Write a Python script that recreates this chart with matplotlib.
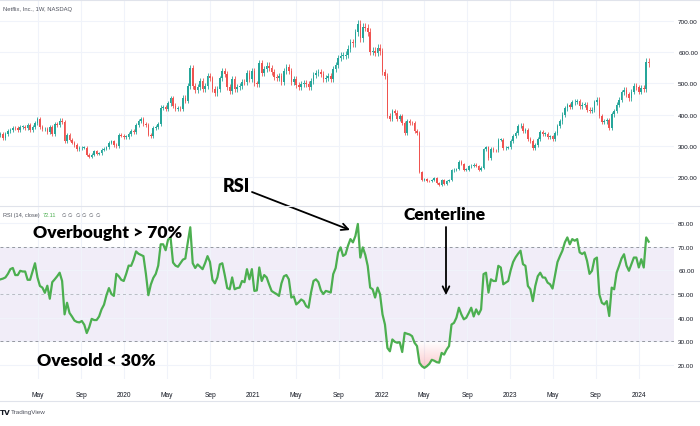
import numpy as np
import pandas as pd
import matplotlib
matplotlib.use("Agg")
import matplotlib.pyplot as plt
import matplotlib.dates as mdates
from matplotlib.path import Path
from matplotlib import font_manager

# ---------------- data ----------------
week_start = "2019-01-14"
n_weeks = 264
first_open = 335.0
closes_2019 = [339, 325, 339, 347, 351, 358, 357, 352, 361, 361, 357, 366, 351, 360, 374, 385,
               361, 354, 354, 343, 360, 339, 370, 367, 381, 376, 315, 335, 320, 310, 302, 290,
               293, 294, 294, 271, 265, 272, 282, 275, 276, 287, 291, 295, 310, 314, 302, 298,
               336, 333, 329]
closes_2020 = [329, 339, 349, 345, 367, 380, 386, 369, 368, 336, 332, 357, 361, 370, 422, 424,
               419, 437, 453, 429, 419, 419, 418, 454, 444, 492, 548, 492, 479, 488, 509, 482,
               491, 524, 516, 482, 469, 482, 516, 539, 531, 489, 475, 513, 482, 488, 491, 504,
               503, 534, 513, 541]
closes_2021 = [500, 497, 565, 532, 547, 557, 548, 538, 521, 518, 524, 503, 539, 553, 540, 505,
               513, 495, 487, 499, 502, 499, 488, 508, 528, 533, 537, 530, 515, 517, 524, 515,
               547, 558, 582, 589, 589, 592, 611, 632, 628, 664, 690, 645, 682, 679, 665, 602,
               605, 597, 614, 603]
closes_2022 = [537, 525, 397, 387, 410, 406, 385, 394, 373, 341, 380, 374, 373, 348, 341, 216,
               190, 194, 187, 186, 191, 198, 182, 175, 190, 179, 186, 189, 221, 224, 226, 249,
               242, 224, 224, 234, 236, 240, 235, 224, 230, 289, 295, 260, 291, 286, 285, 320,
               320, 292, 294, 295]
closes_2023 = [315, 332, 342, 362, 365, 347, 350, 322, 315, 293, 303, 321, 345, 339, 339, 328,
               330, 322, 340, 364, 378, 400, 420, 431, 424, 440, 441, 443, 427, 432, 432, 416,
               413, 416, 440, 447, 396, 377, 378, 383, 356, 401, 412, 432, 447, 471, 479, 465,
               453, 473, 491, 487]
closes_2024 = [474, 486, 482, 570, 564]

rsi_values = [
    56.2, 56.5, 57, 58.5, 60.5, 61, 58, 58, 59.8, 59.5, 59.5, 56, 56, 59.5, 63, 57,
    53.4, 52.7, 50.5, 53.5, 48, 55, 56.2, 57.5, 59, 55.5, 41.4, 46.3, 42, 40.5, 38.8, 38.2,
    38, 38.6, 37, 33.5, 36, 39.5, 39, 39, 40.5, 43.5, 45.5, 49.5, 52.5, 50, 49.2, 58.5,
    57.5, 56, 55.5, 58.5, 62, 61.9, 64.5, 68, 67, 66.5, 66, 58.5, 49.5, 54, 56.8, 58.5,
    62, 71, 71, 68.5, 73, 73.9, 63.3, 62, 61.5, 63, 64.5, 65, 71.8, 78.2, 63, 61,
    62.5, 61.5, 60.5, 63, 66, 63.5, 56, 54.5, 57, 62.5, 63, 58, 52.5, 52, 57, 52,
    52.5, 52.7, 55.5, 55, 60.5, 56.2, 60.5, 51.3, 51.5, 61.2, 55.5, 58, 57, 54, 51.3, 50.6,
    50, 49.2, 54.5, 57.5, 58, 56.2, 48.5, 49, 45.6, 46.5, 47.7, 47, 44.9, 44.2, 50.6, 55.5,
    56.2, 55, 51.5, 50, 51.3, 51, 50.6, 58.4, 61, 67.6, 69.7, 66.1, 66.8, 70.4, 73.2, 71.8,
    74.5, 79.6, 65.4, 69.7, 66.6, 61.9, 52.7, 52, 48.5, 52.7, 49.9, 41.4, 37.1, 27.2, 25.8, 30.8,
    29.8, 29.4, 29.6, 25.5, 33.6, 33.2, 32.9, 32.2, 29.4, 28, 20.9, 19.5, 18.8, 19.5, 20.5, 22.2,
    21.8, 21.2, 21, 25.1, 24.4, 26.5, 28, 37.1, 37.8, 40, 44.2, 41.4, 39.3, 40, 42, 44.2,
    40.5, 43.5, 41.4, 43.5, 58.4, 59, 50.6, 56.2, 55.5, 55.5, 61.9, 61.2, 54.1, 54.8, 55.5, 60,
    63.5, 65.5, 67, 68.3, 62.6, 61.9, 53.4, 52, 47, 53.4, 57.5, 59, 57, 56.9, 54.8, 54.1,
    52.3, 58, 63.5, 66, 68.3, 71.8, 73.9, 71, 73.2, 72.5, 73.2, 67.6, 66.9, 67.6, 64, 58.5,
    59.8, 64.7, 65.4, 49.8, 46.3, 45.6, 47, 40.7, 52.7, 52, 59, 61.9, 65, 66.8, 62, 59.8,
    62.6, 65.4, 65.4, 61.2, 64.7, 61.2, 73.9, 72.11]

price_ticks = [200, 300, 400, 500, 600, 700]
rsi_ticks = [20, 30, 40, 50, 60, 70, 80]
date_tick_dates = ["2019-05-01", "2019-09-01", "2020-01-01", "2020-05-01", "2020-09-01",
                   "2021-01-01", "2021-05-01", "2021-09-01", "2022-01-01", "2022-05-01",
                   "2022-09-01", "2023-01-01", "2023-05-01", "2023-09-01", "2024-01-01"]
date_tick_labels = ["May", "Sep", "2020", "May", "Sep", "2021", "May", "Sep", "2022", "May",
                    "Sep", "2023", "May", "Sep", "2024"]

# ---------------- style ----------------
W, H = 700, 427
UP, DOWN = "#26a69a", "#ef5350"
GRID = "#f0f3fa"
BORDER = "#e0e3eb"
TXT = "#131722"
names = {f.name for f in font_manager.fontManager.ttflist}
NARROW = "Liberation Sans Narrow" if "Liberation Sans Narrow" in names else "Liberation Sans"
SMALL = [NARROW, "DejaVu Sans"]
BOLD = ["Lato", "DejaVu Sans"]

fig = plt.figure(figsize=(7, 4.27), dpi=100)
fig.patch.set_facecolor("white")


def fx(px):
    return px / W


def fy(py):
    return 1 - py / H


ax1 = fig.add_axes([0, fy(207), fx(674), (207 - 1) / H])
ax2 = fig.add_axes([0, fy(380), fx(674), (380 - 207) / H], sharex=ax1)

dates = pd.date_range(week_start, periods=n_weeks, freq="7D")
x = mdates.date2num(dates.to_pydatetime())
closes = np.array(closes_2019 + closes_2020 + closes_2021 + closes_2022 + closes_2023 + closes_2024, float)
rsi = np.array(rsi_values, float)
opens = np.concatenate([[first_open], closes[:-1]])
is_up = closes >= opens
cols = np.where(is_up, UP, DOWN)
highs = np.maximum(opens, closes) * 1.018
lows = np.minimum(opens, closes) * 0.982

x0 = mdates.date2num(pd.Timestamp(week_start)) - 1.42
x1 = x0 + 674 / 2.4645 * 7
tick_x = mdates.date2num(pd.to_datetime(date_tick_dates).to_pydatetime())

# ---- price pane ----
ax1.vlines(x, lows, highs, colors=cols, lw=0.6, zorder=3)
ax1.bar(x, np.maximum(np.abs(closes - opens), 1.0), bottom=np.minimum(opens, closes),
        width=4.6, color=cols, lw=0, zorder=4)
ax1.set_ylim(107.05, 767.3)
ax1.set_xlim(x0, x1)
ax1.set_yticks(price_ticks)
ax1.set_yticklabels([f"{v:.2f}" for v in price_ticks])
ax1.yaxis.tick_right()
ax1.tick_params(axis="y", length=0, pad=3, labelsize=4.6, labelcolor=TXT)
ax1.tick_params(axis="x", length=0, labelbottom=False)
for t in ax1.get_yticklabels():
    t.set_family(SMALL)
ax1.set_xticks(tick_x)
ax1.grid(True, color=GRID, lw=0.8, zorder=0)
for s in ax1.spines.values():
    s.set_visible(False)

# ---- RSI pane ----
ax2.set_ylim(14.09, 87.18)
ax2.set_yticks(rsi_ticks)
ax2.set_yticklabels([f"{v:.2f}" for v in rsi_ticks])
ax2.yaxis.tick_right()
ax2.tick_params(axis="y", length=0, pad=3, labelsize=4.6, labelcolor=TXT)
ax2.set_xticks(tick_x)
ax2.set_xticklabels(date_tick_labels)
ax2.tick_params(axis="x", length=0, pad=9, labelsize=4.8, labelcolor=TXT)
for t in ax2.get_yticklabels() + ax2.get_xticklabels():
    t.set_family(SMALL)
ax2.grid(True, color=GRID, lw=0.8, zorder=0)
for s in ax2.spines.values():
    s.set_visible(False)
ax2.axhspan(30, 70, color="#7e57c2", alpha=0.1, lw=0, zorder=1)
for lvl, a in [(70, 1.0), (50, 0.6), (30, 1.0)]:
    ax2.axhline(lvl, color="#9598a1", ls=(0, (3, 3)), lw=0.7, alpha=a, zorder=2)

# oversold gradient
poly = ax2.fill_between(x, rsi, 30, where=rsi < 30, interpolate=True, color="none", lw=0)
paths = poly.get_paths()
if paths:
    clip = Path.make_compound_path(*paths)
    ny = 200
    vals = np.linspace(14.09, 30, ny)
    img = np.zeros((ny, 1, 4))
    img[:, 0, 0] = 242 / 255
    img[:, 0, 1] = 54 / 255
    img[:, 0, 2] = 69 / 255
    img[:, 0, 3] = np.clip(0.7 * (30 - vals) / 30, 0, 1)
    im = ax2.imshow(img, extent=[x0, x1, 14.09, 30], origin="lower", aspect="auto",
                    zorder=2, interpolation="bilinear")
    im.set_clip_path(clip, transform=ax2.transData)
ax2.set_xlim(x0, x1)
ax2.set_ylim(14.09, 87.18)
ax2.plot(x, rsi, color="#4caf50", lw=1.6, zorder=5, solid_joinstyle="round")

# ---- borders ----
for yy in (0.8, 207, 401.7):
    fig.add_artist(plt.Line2D([0, 1], [fy(yy), fy(yy)], color=BORDER, lw=0.8))

# ---- header texts ----
fig.text(fx(3), fy(10), "Netflix, Inc., 1W, NASDAQ", fontsize=4.2, family=SMALL,
         color="#50535e", va="center", ha="left")

renderer = fig.canvas.get_renderer()
t_rsi = fig.text(fx(3), fy(216), "RSI (14, close)", fontsize=4.0, family=SMALL,
                 color="#50535e", va="center", ha="left")
end_px = t_rsi.get_window_extent(renderer).x1
t_val = fig.text((end_px + 3) / W, fy(216), "72.11", fontsize=4.0, family=SMALL,
                 color="#4caf50", va="center", ha="left")
end_px = t_val.get_window_extent(renderer).x1
for k in range(6):
    fig.text((end_px + 5 + k * 7.0) / W, fy(216), "\u2205", fontsize=3.8,
             family=["DejaVu Sans"], color="#50535e", va="center", ha="left")

# TradingView mark
fig.text(fx(0), fy(413), "TV", fontsize=5.2, family=["DejaVu Sans"], weight="heavy",
         color=TXT, va="center", ha="left")
fig.text(fx(11), fy(413), "TradingView", fontsize=4.6, family=SMALL, color="#50535e",
         va="center", ha="left")

# ---- annotations ----
fig.text(fx(33), fy(233), "Overbought > 70%", fontsize=12.6, family=BOLD, weight="heavy",
         color="black", va="center", ha="left")
fig.text(fx(37), fy(361), "Ovesold < 30%", fontsize=12.6, family=BOLD, weight="heavy",
         color="black", va="center", ha="left")
fig.text(fx(223), fy(187), "RSI", fontsize=13, family=BOLD, weight="heavy",
         color="black", va="center", ha="left")
fig.text(fx(404), fy(215), "Centerline", fontsize=12.6, family=BOLD, weight="heavy",
         color="black", va="center", ha="left")

arrow_kw = dict(arrowstyle="->", lw=1.3, color="black", mutation_scale=12,
                shrinkA=0, shrinkB=0)
fig.add_artist(matplotlib.patches.FancyArrowPatch(
    (fx(252), fy(193)), (fx(350), fy(231)), transform=fig.transFigure, **arrow_kw))
fig.add_artist(matplotlib.patches.FancyArrowPatch(
    (fx(446), fy(228)), (fx(446), fy(296)), transform=fig.transFigure, **arrow_kw))

fig.savefig("out.png", dpi=100, facecolor="white")
